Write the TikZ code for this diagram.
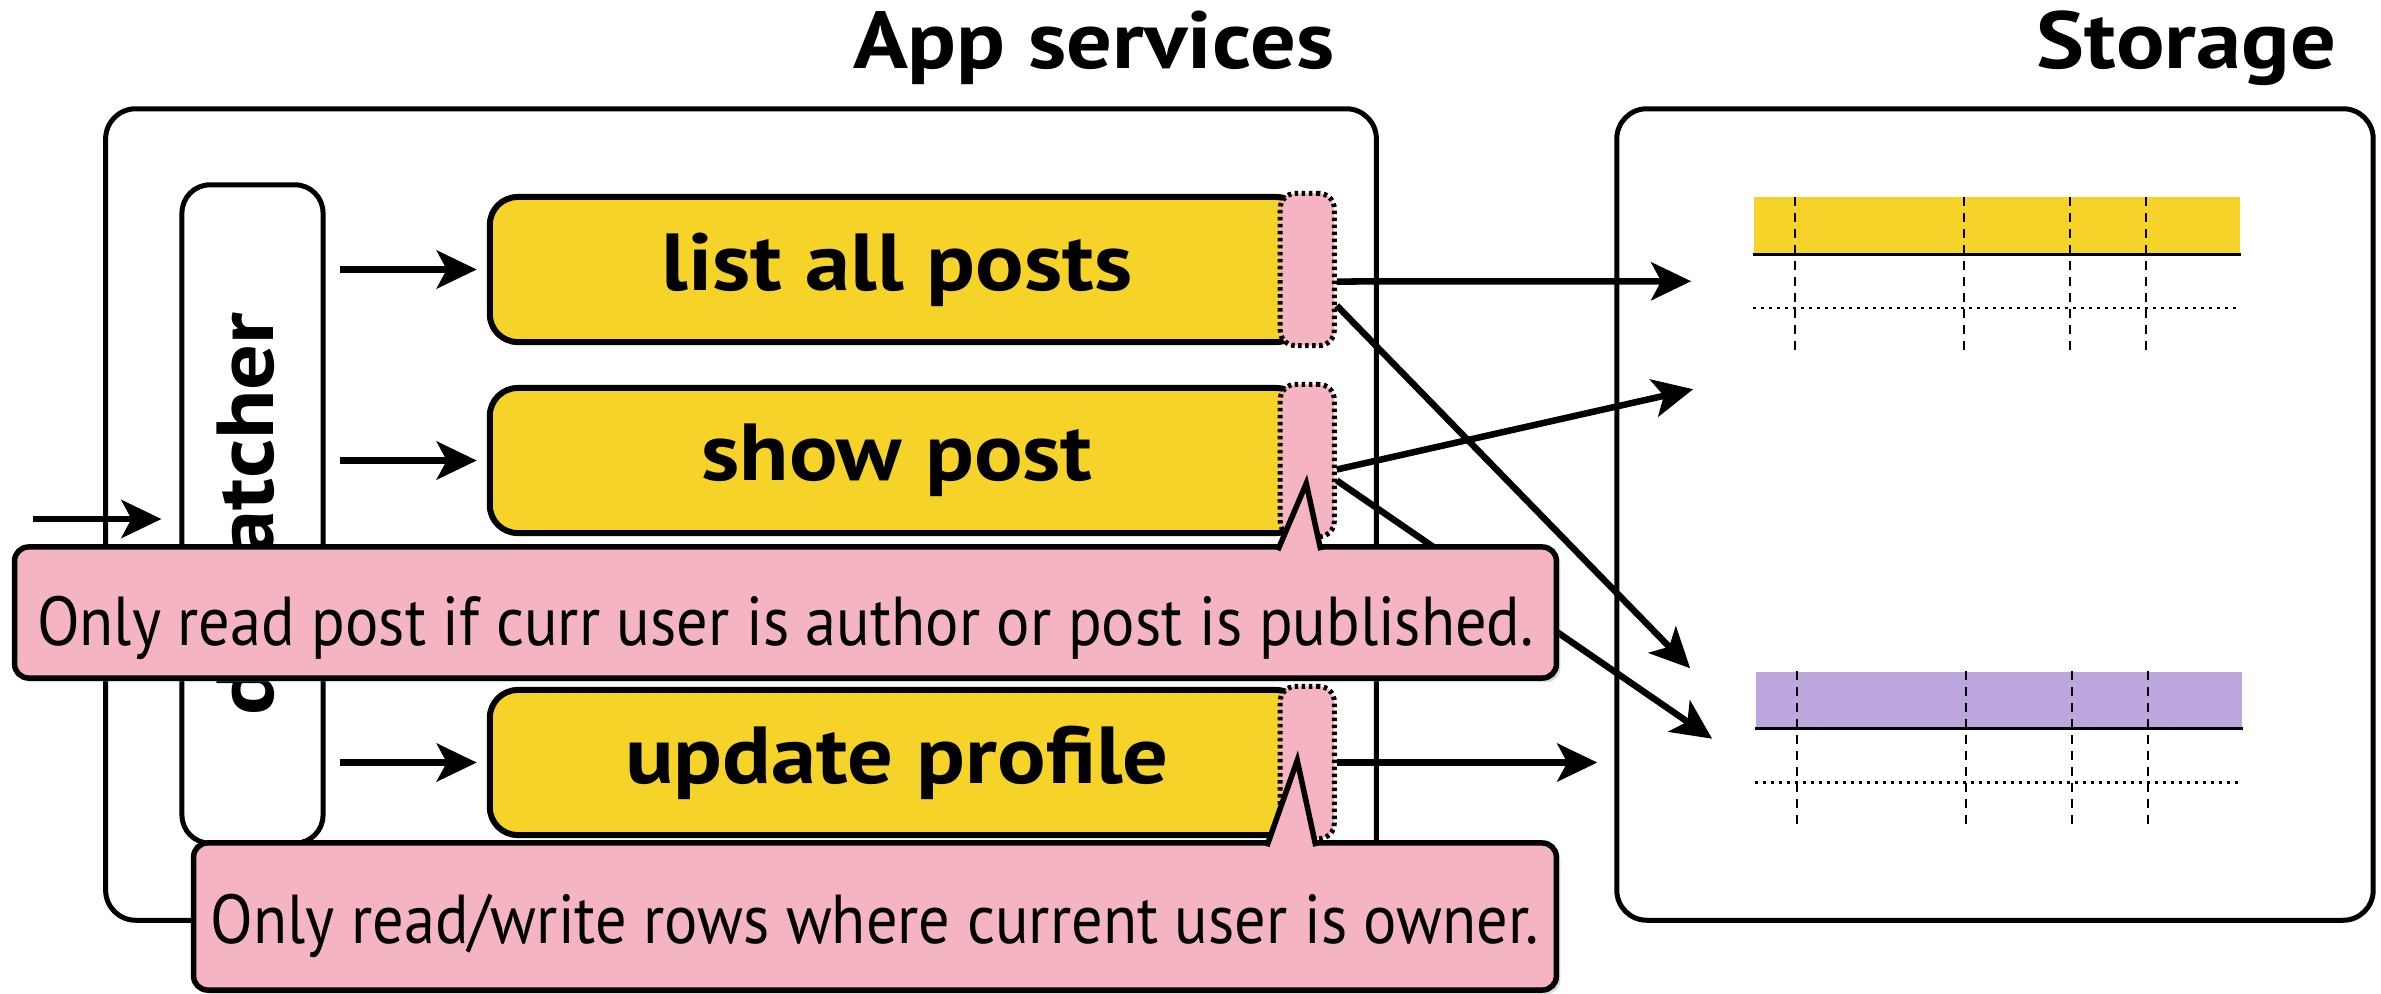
\documentclass[tikz,border=0pt]{standalone}
\usepackage{fontspec}
\setmainfont{PT Sans}
\newfontfamily\notefont{PT Sans}[FakeStretch=0.9]
\newfontfamily\headfont{PT Sans Bold}[FakeStretch=1.12]
\usetikzlibrary{arrows.meta,calc,shadows}

\definecolor{svcyellow}{RGB}{245,211,40}
\definecolor{guardpink}{RGB}{245,180,193}
\definecolor{tabpurple}{RGB}{188,166,222}

\begin{document}
\begin{tikzpicture}[x=0.01cm, y=-0.01cm]
    \tikzstyle{group} = [rectangle, draw, line width=0.05cm, rounded corners=0.3cm]
    \tikzstyle{title} = [anchor=base east, inner sep=0pt, font=\headfont\fontsize{23}{28}\selectfont]
    \tikzstyle{svc} = [rectangle, draw, fill=svcyellow, line width=0.06cm, rounded corners=0.28cm, minimum width=8.14cm, minimum height=1.45cm, font=\headfont\fontsize{23}{28}\selectfont]
    \tikzstyle{guard} = [rectangle, draw, fill=guardpink, line width=0.05cm, dash pattern=on 0.035cm off 0.035cm, rounded corners=0.15cm, minimum width=0.54cm, minimum height=1.52cm]
    \tikzstyle{tabhead} = [rectangle, inner sep=0pt, minimum width=4.86cm, minimum height=0.56cm]
    \tikzstyle{tabcol} = [line width=0.025cm, dash pattern=on 0.09cm off 0.07cm]
    \tikzstyle{tabrow} = [line width=0.025cm, dash pattern=on 0.03cm off 0.05cm]
    \tikzstyle{note} = [rectangle, draw, fill=guardpink, line width=0.055cm, rounded corners=0.14cm, font=\notefont\fontsize{19.7}{24}\selectfont, drop shadow={shadow xshift=0.04cm, shadow yshift=-0.04cm, opacity=0.3}]
    \tikzstyle{arrow} = [line width=0.065cm, ->, >={Stealth[length=0.4cm, width=0.38cm, inset=0.1cm]}]

    \useasboundingbox (0,0) rectangle (2381,993);

    % the two groups
    \node (app) [group, minimum width=12.7cm, minimum height=8.11cm] at (741,514.5) {};
    \node (store) [group, minimum width=7.56cm, minimum height=8.11cm] at (1995,514.5) {};
    \node (apptitle) [title] at ($(app.north east)+(-44,-38)$) {App services};
    \node (storetitle) [title] at ($(store.north east)+(-39,-38)$) {Storage};

    \node (disp) [group, rounded corners=0.28cm, minimum width=1.41cm, minimum height=6.58cm] at (252.5,514) {};
    \node (disptext) [rotate=90, font=\headfont\fontsize{23}{28}\selectfont] at (disp) {dispatcher};

    \node (list) [svc] at (897,269.5) {list all posts};
    \node (show) [svc] at (897,460.5) {show post};
    \node (upd) [svc] at (897,762.5) {update profile};
    \foreach \s/\g in {list/listg, show/showg, upd/updg} {
        \node (\g) [guard] at (\s.east) {};
        \draw [arrow, shorten <=0.14cm, shorten >=0.1cm] (disp.east |- \s.west) -- (\s.west);
    }

    \coordinate (in) at (33,519);
    \draw [arrow, shorten >=0.18cm] (in) -- (disp.west |- in);

    % tables
    \foreach \tab/\x/\y/\col in {posts/1997/225.5/svcyellow, users/1999/700/tabpurple} {
        \node (\tab) [tabhead, fill=\col] at (\x,\y) {};
        \draw [line width=0.03cm] (\tab.south west) -- (\tab.south east);
        \draw [tabrow] ($(\tab.south west)+(0,54)$) -- ($(\tab.south east)+(0,54)$);
        \foreach \dx in {42,211,317,393}
            \draw [tabcol] ($(\tab.north west)+(\dx,0)$) -- ++(0,155);
    }

    % reads and writes
    \coordinate (postrow) at ($(posts.south west)+(-62,27)$);
    \coordinate (postnext) at ($(posts.south west)+(-60,135)$);
    \coordinate (usertop) at ($(users.north west)+(-65,-3)$);
    \coordinate (userrow) at ($(users.south west)+(-43,10)$);
    \coordinate (userside) at ($(store.west |- upd)+(-17,0)$);

    \draw [arrow] ($(listg.east)+(0,12)$) -- (postrow);
    \draw [arrow] ($(listg.east)+(0,36)$) -- (usertop);
    \draw [arrow] ($(showg.east)+(0,9)$) -- (postnext);
    \draw [arrow] ($(showg.east)+(0,20)$) -- (userrow);
    \draw [arrow] (updg.east) -- (userside);

    % callouts
    \node (note1) [note, minimum width=15.41cm, minimum height=1.31cm, text height=20pt, text depth=1.5pt] at (785.5,612.5) {Only read post if curr user is author or post is published.};
    \filldraw [fill=guardpink, line width=0.055cm] ($(note1.north west)+(1266,6)$) -- ($(showg)+(-1,23)$) -- ($(note1.north west)+(1309,6)$);

    \node (note2) [note, minimum width=13.62cm, minimum height=1.47cm, text height=17.5pt, text depth=2pt] at (875,916.5) {Only read/write rows where current user is owner.};
    \filldraw [fill=guardpink, line width=0.055cm] ($(note2.north west)+(1076,6)$) -- ($(updg)+(-10,-2)$) -- ($(note2.north west)+(1125,6)$);
\end{tikzpicture}
\end{document}
